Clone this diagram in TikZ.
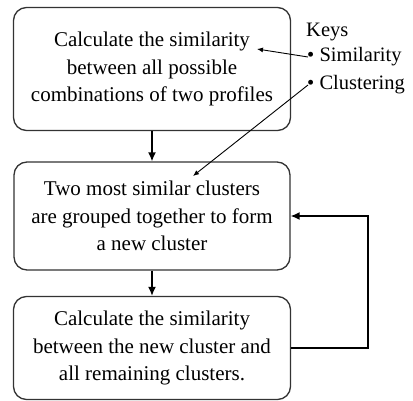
\documentclass[tikz,border=0pt]{standalone}
\usepackage{fontspec}
\setmainfont{Liberation Serif}
\usetikzlibrary{arrows.meta}

\begin{document}
\begin{tikzpicture}[x=1pt,y=-1pt,
    stepbox/.style={draw=black!80, line width=1.3pt, rounded corners=13pt, align=center,
      font=\fontsize{21}{27.5}\selectfont, inner sep=0pt},
    flow/.style={line width=1.5pt, -{Latex[length=9pt,width=8pt]}},
    keyarrow/.style={line width=0.9pt, -{Latex[length=6pt,width=5pt]}},
    keytext/.style={anchor=west, font=\fontsize{20.5}{24}\selectfont, inner sep=0pt}]
  \useasboundingbox (0,0) rectangle (413,401);

  % Draw the three steps
  \node[stepbox, minimum width=277pt, minimum height=123pt] (calc) at (152,69)
    {Calculate the similarity\\between all possible\\combinations of two profiles};
  \node[stepbox, minimum width=276pt, minimum height=108pt] (group) at (152,216)
    {Two most similar clusters\\are grouped together to form\\a new cluster};
  \node[stepbox, minimum width=277pt, minimum height=103pt] (update) at (152,348)
    {Calculate the similarity\\between the new cluster and\\all remaining clusters.};

  % Draw the flow arrows
  \draw[flow] (calc) -- (group);
  \draw[flow] (group) -- (update);
  \draw[flow] (update.east) -- ++(77,0) |- (group.east);

  % Keys
  \node[keytext] (keys) at (306,32) {Keys};
  \node[keytext] (sim) at (307,57) {\textbullet\ Similarity};
  \node[keytext] (clu) at (307,85) {\textbullet\ Clustering};
  \coordinate (simtip) at (257,49);
  \coordinate (clutip) at (193,176);
  \draw[keyarrow] ([xshift=1pt]sim.west) -- (simtip);
  \draw[keyarrow] ([xshift=1pt]clu.west) -- (clutip);
\end{tikzpicture}
\end{document}
